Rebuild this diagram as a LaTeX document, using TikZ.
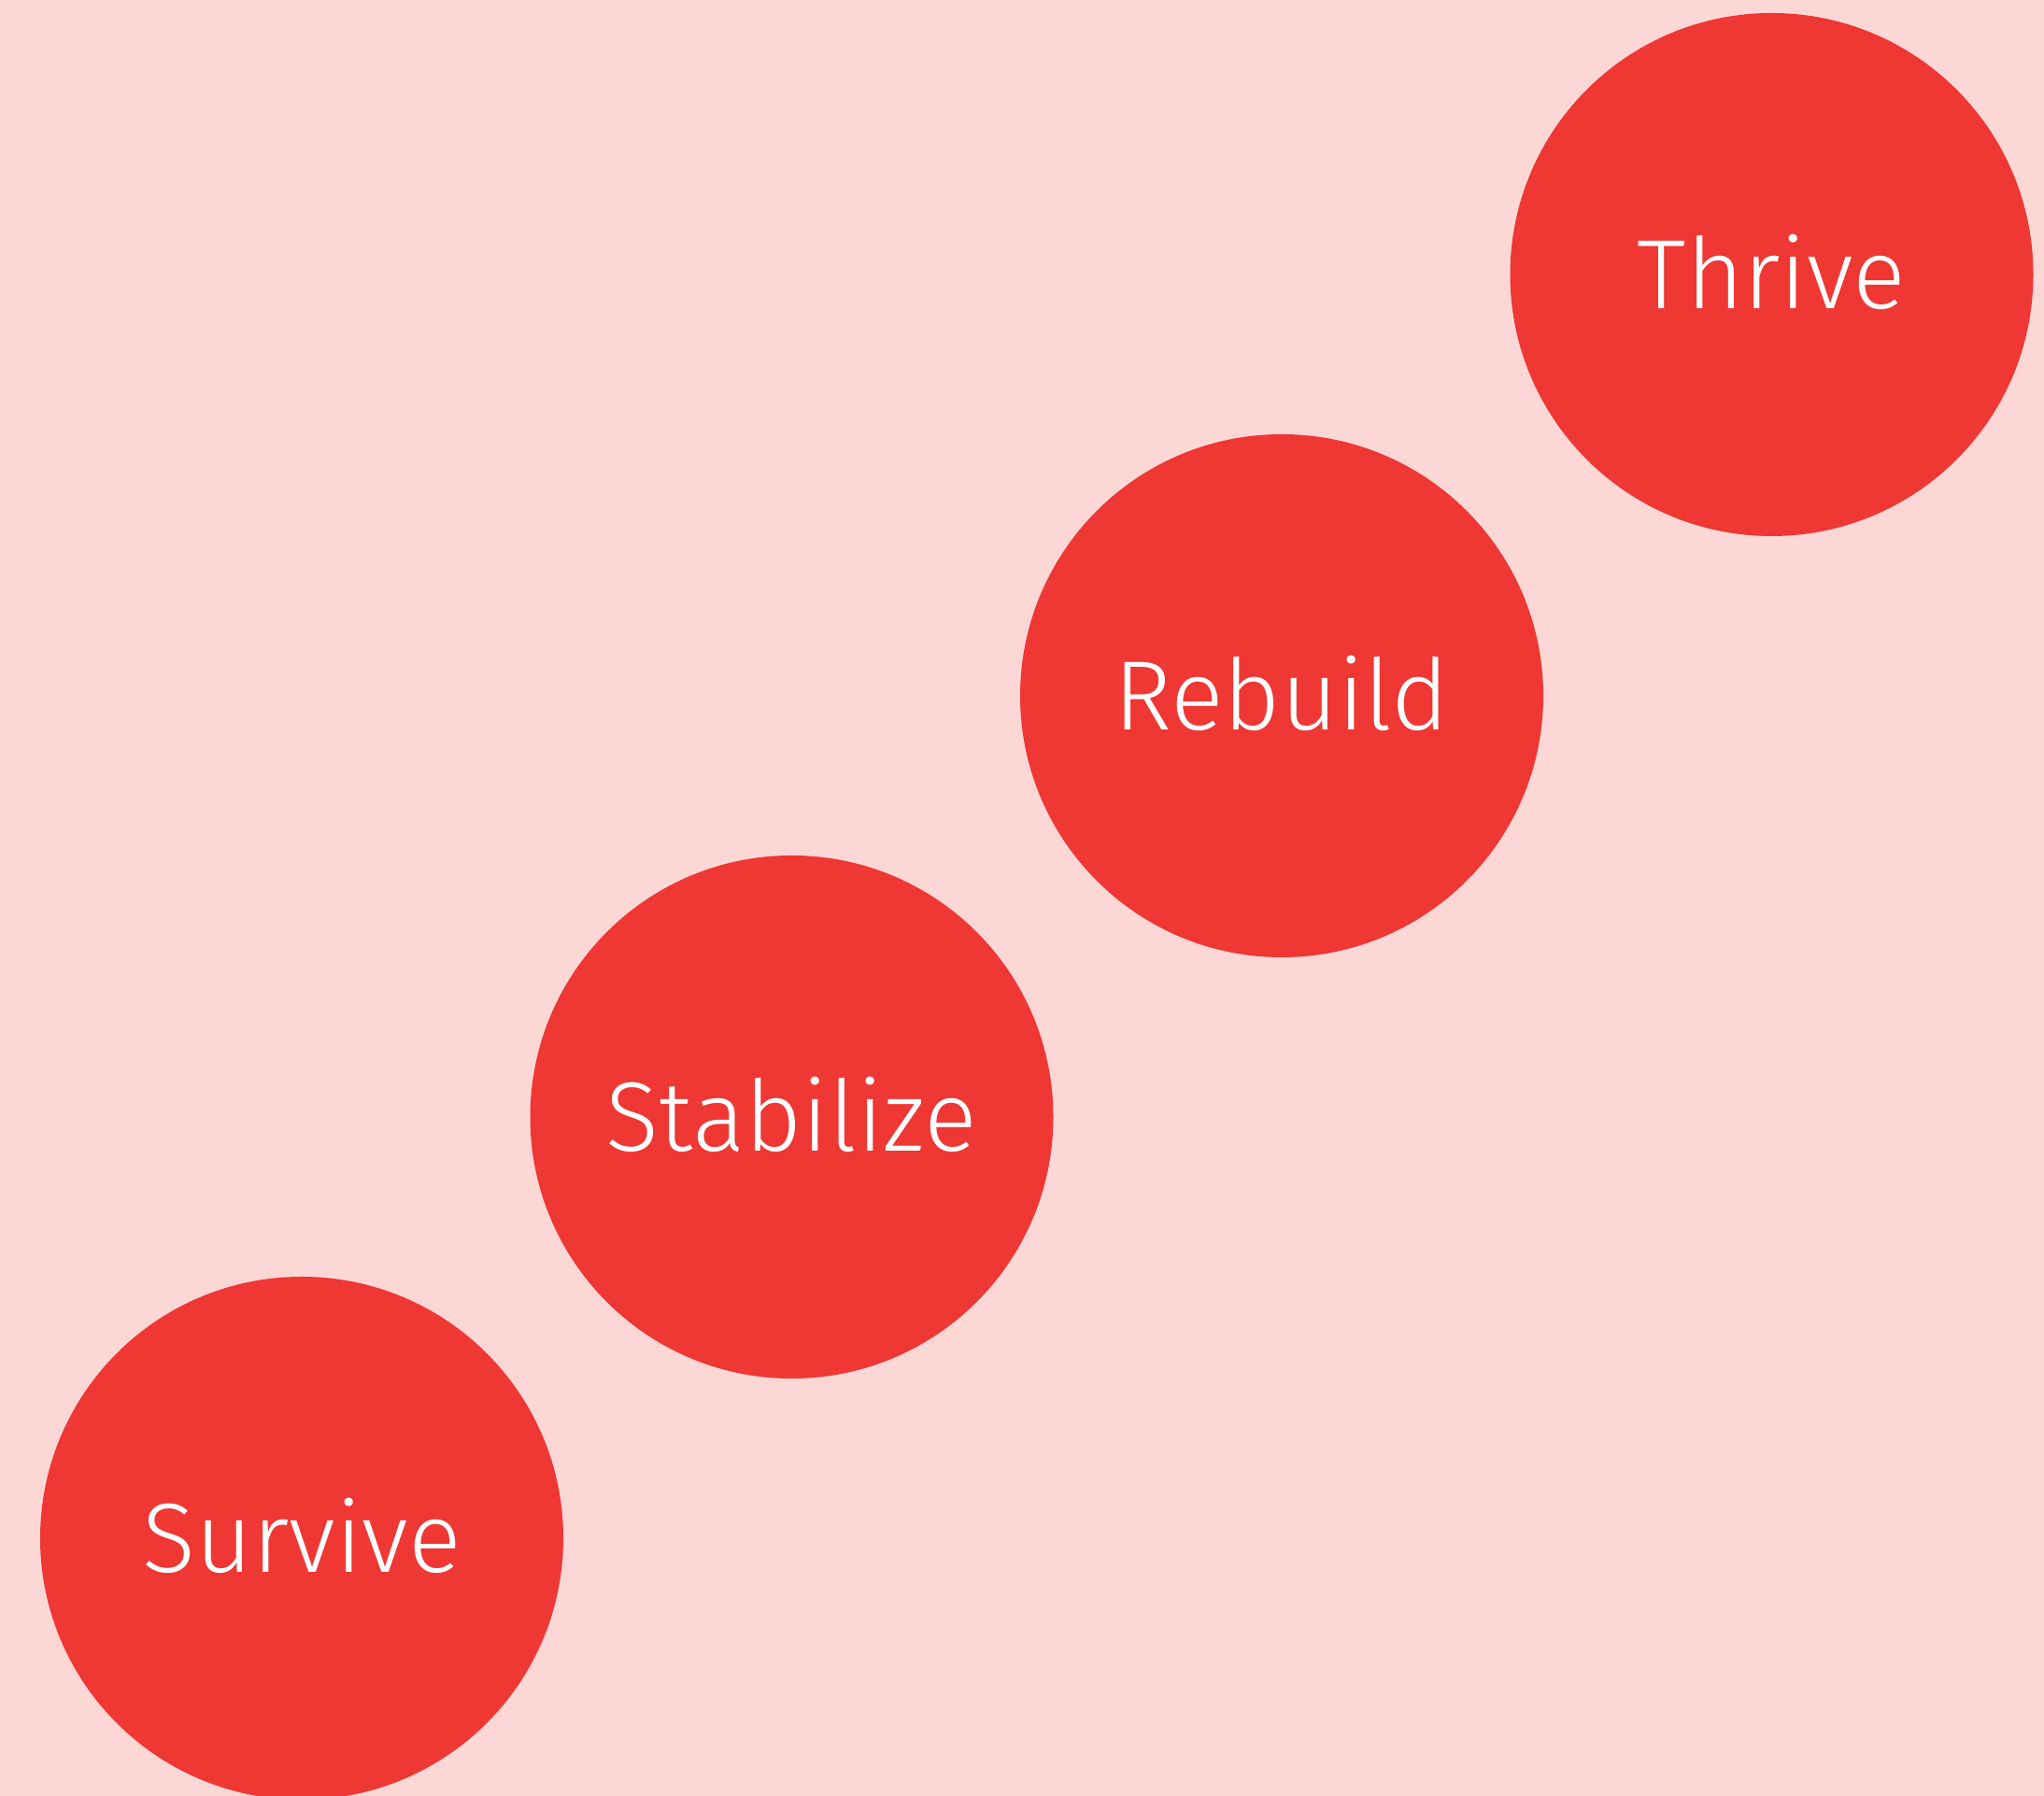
\documentclass[tikz,border=0pt]{standalone}
\usepackage{fontspec}
\setmainfont{Fira Sans}[UprightFont=* Light]
\usetikzlibrary{positioning}
\definecolor{bgpink}{HTML}{FDD7D6}
\definecolor{stagered}{HTML}{EF3733}
\tikzstyle{stage} = [circle, fill=stagered, text=white, minimum size=5.60cm, inner sep=0pt, text height=0.74cm, text depth=0cm, font=\fontsize{30}{36}\selectfont]

\begin{document}
\begin{tikzpicture}[node distance=4.51cm and 5.245cm, on grid]
        \fill[bgpink] (0,0) rectangle (21.88,19.23);
        \useasboundingbox (0,0) rectangle (21.88,19.23);
        \node[stage] (survive) at (3.23,2.76) {Survive};
        \node[stage, above right=of survive] (stabilize) {Stabilize};
        \node[stage, above right=of stabilize] (rebuild) {Rebuild};
        \node[stage, above right=of rebuild] (thrive) {Thrive};
    \end{tikzpicture}
\end{document}
